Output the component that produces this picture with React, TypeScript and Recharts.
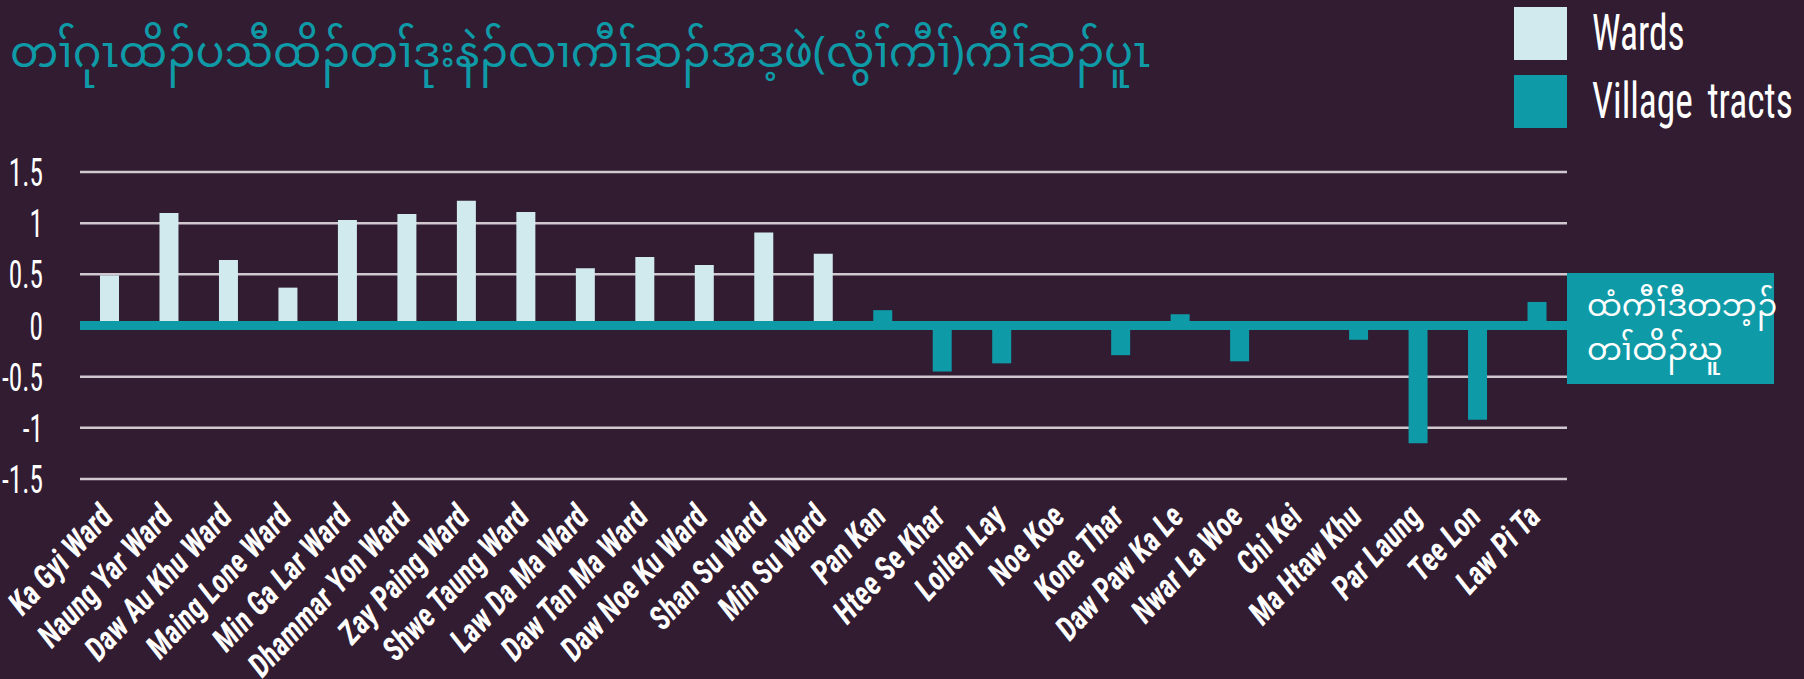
import React from "react";
import {
  BarChart,
  Bar,
  XAxis,
  YAxis,
  CartesianGrid,
  ReferenceLine,
} from "recharts";

const wardNames = [
  "Ka Gyi Ward",
  "Naung Yar Ward",
  "Daw Au Khu Ward",
  "Maing Lone Ward",
  "Min Ga Lar Ward",
  "Dhammar Yon Ward",
  "Zay Paing Ward",
  "Shwe Taung Ward",
  "Law Da Ma Ward",
  "Daw Tan Ma Ward",
  "Daw Noe Ku Ward",
  "Shan Su Ward",
  "Min Su Ward",
];
const wardValues = [0.49, 1.1, 0.64, 0.37, 1.03, 1.09, 1.22, 1.11, 0.56, 0.67, 0.59, 0.91, 0.7];

const villageNames = [
  "Pan Kan",
  "Htee Se Khar",
  "Loilen Lay",
  "Noe Koe",
  "Kone Thar",
  "Daw Paw Ka Le",
  "Nwar La Woe",
  "Chi Kei",
  "Ma Htaw Khu",
  "Par Laung",
  "Tee Lon",
  "Law Pi Ta",
];
const villageValues = [0.15, -0.45, -0.37, 0, -0.29, 0.11, -0.35, 0, -0.14, -1.15, -0.92, 0.23];

const yTicks = [-1.5, -1, -0.5, 0, 0.5, 1, 1.5];

const titleText = "တၢ်ဂုၤထိၣ်ပသီထိၣ်တၢ်ဒုးနဲၣ်လၢကီၢ်ဆၣ်အဒ့ဖဲ(လွံၢ်ကီၢ်)ကီၢ်ဆၣ်ပူၤ";
const boxLines = ["ထံကီၢ်ဒီတဘ့ၣ်", "တၢ်ထိၣ်ဃူ"];
const seriesNames = { wards: "Wards", village: "Village tracts" };

const data = [
  ...wardNames.map((name, i) => ({ name, wards: wardValues[i], village: null as number | null })),
  ...villageNames.map((name, i) => ({ name, wards: null as number | null, village: villageValues[i] })),
];

const BG = "#311c31";
const TEAL = "#0f9aa8";
const LIGHT = "#d1eaee";
const NARROW = "'Liberation Sans Narrow', 'Roboto Condensed', 'Liberation Sans', sans-serif";
const MY = "'Noto Sans Myanmar', 'Padauk', 'Myanmar Text', 'Noto Sans', sans-serif";

const YTick = (props: any) => {
  const { x, y, payload } = props;
  return (
    <text
      transform={`translate(${x},${y}) scale(0.7,1)`}
      textAnchor="end"
      dy="0.36em"
      fill="#ffffff"
      fontFamily={NARROW}
      fontSize={39}
    >
      {String(payload.value)}
    </text>
  );
};

const XTick = (props: any) => {
  const { x, y, payload } = props;
  return (
    <g transform={`translate(${x + 5},${y + 31})`}>
      <text
        x={0}
        y={0}
        textAnchor="end"
        transform="rotate(-47) scale(0.88,1)"
        fill="#ffffff"
        fontFamily={NARROW}
        fontSize={33}
        fontWeight="bold"
        fontStyle="italic"
      >
        {payload.value}
      </text>
    </g>
  );
};

const LegendBlock = () => {
  const items = [
    { label: seriesNames.wards, color: LIGHT },
    { label: seriesNames.village, color: TEAL },
  ];
  return (
    <div style={{ position: "absolute", left: 1514, top: 7, width: 290 }}>
      {items.map((it, i) => (
        <div
          key={it.label}
          style={{ display: "flex", alignItems: "center", height: 53, marginBottom: i === 0 ? 15 : 0 }}
        >
          <div style={{ width: 53, height: 53, flexShrink: 0, background: it.color }} />
          <div
            style={{
              marginLeft: 25,
              color: "#ffffff",
              fontFamily: NARROW,
              fontSize: 50,
              lineHeight: "53px",
              whiteSpace: "nowrap",
              transform: "scale(0.75,1)",
              transformOrigin: "left center",
              wordSpacing: 8,
            }}
          >
            {it.label}
          </div>
        </div>
      ))}
    </div>
  );
};

export default function App() {
  return (
    <div
      style={{
        position: "absolute",
        left: 0,
        top: 0,
        width: 1804,
        height: 679,
        background: BG,
        overflow: "hidden",
      }}
    >
      <div
        style={{
          position: "absolute",
          left: 10,
          top: 27,
          color: TEAL,
          fontFamily: MY,
          fontSize: 43,
          lineHeight: "60px",
          whiteSpace: "nowrap",
        }}
      >
        {titleText}
      </div>
      <LegendBlock />
      <BarChart
        width={1804}
        height={679}
        data={data}
        margin={{ top: 172, right: 237, bottom: 0, left: 0 }}
        barSize={19}
        style={{ position: "absolute", left: 0, top: 0 }}
      >
        <CartesianGrid horizontal vertical={false} stroke="#cfc8cf" strokeWidth={2.5} />
        <YAxis
          type="number"
          domain={[-1.5, 1.5]}
          ticks={yTicks}
          width={80}
          axisLine={false}
          tickLine={false}
          tickSize={0}
          tickMargin={37}
          tick={<YTick />}
          interval={0}
        />
        <XAxis
          dataKey="name"
          height={200}
          axisLine={false}
          tickLine={false}
          interval={0}
          tick={<XTick />}
        />
        <Bar dataKey="wards" name={seriesNames.wards} stackId="s" fill={LIGHT} isAnimationActive={false} />
        <Bar dataKey="village" name={seriesNames.village} stackId="s" fill={TEAL} isAnimationActive={false} />
        <ReferenceLine y={0} stroke={TEAL} strokeWidth={9} />
      </BarChart>
      <div
        style={{
          position: "absolute",
          left: 1567,
          top: 273,
          width: 207,
          height: 111,
          background: TEAL,
          color: "#ffffff",
          fontFamily: MY,
          fontSize: 31,
          boxSizing: "border-box",
          paddingLeft: 20,
          paddingTop: 14,
          lineHeight: "44px",
          whiteSpace: "nowrap",
        }}
      >
        {boxLines.map((l) => (
          <div key={l}>{l}</div>
        ))}
      </div>
    </div>
  );
}
